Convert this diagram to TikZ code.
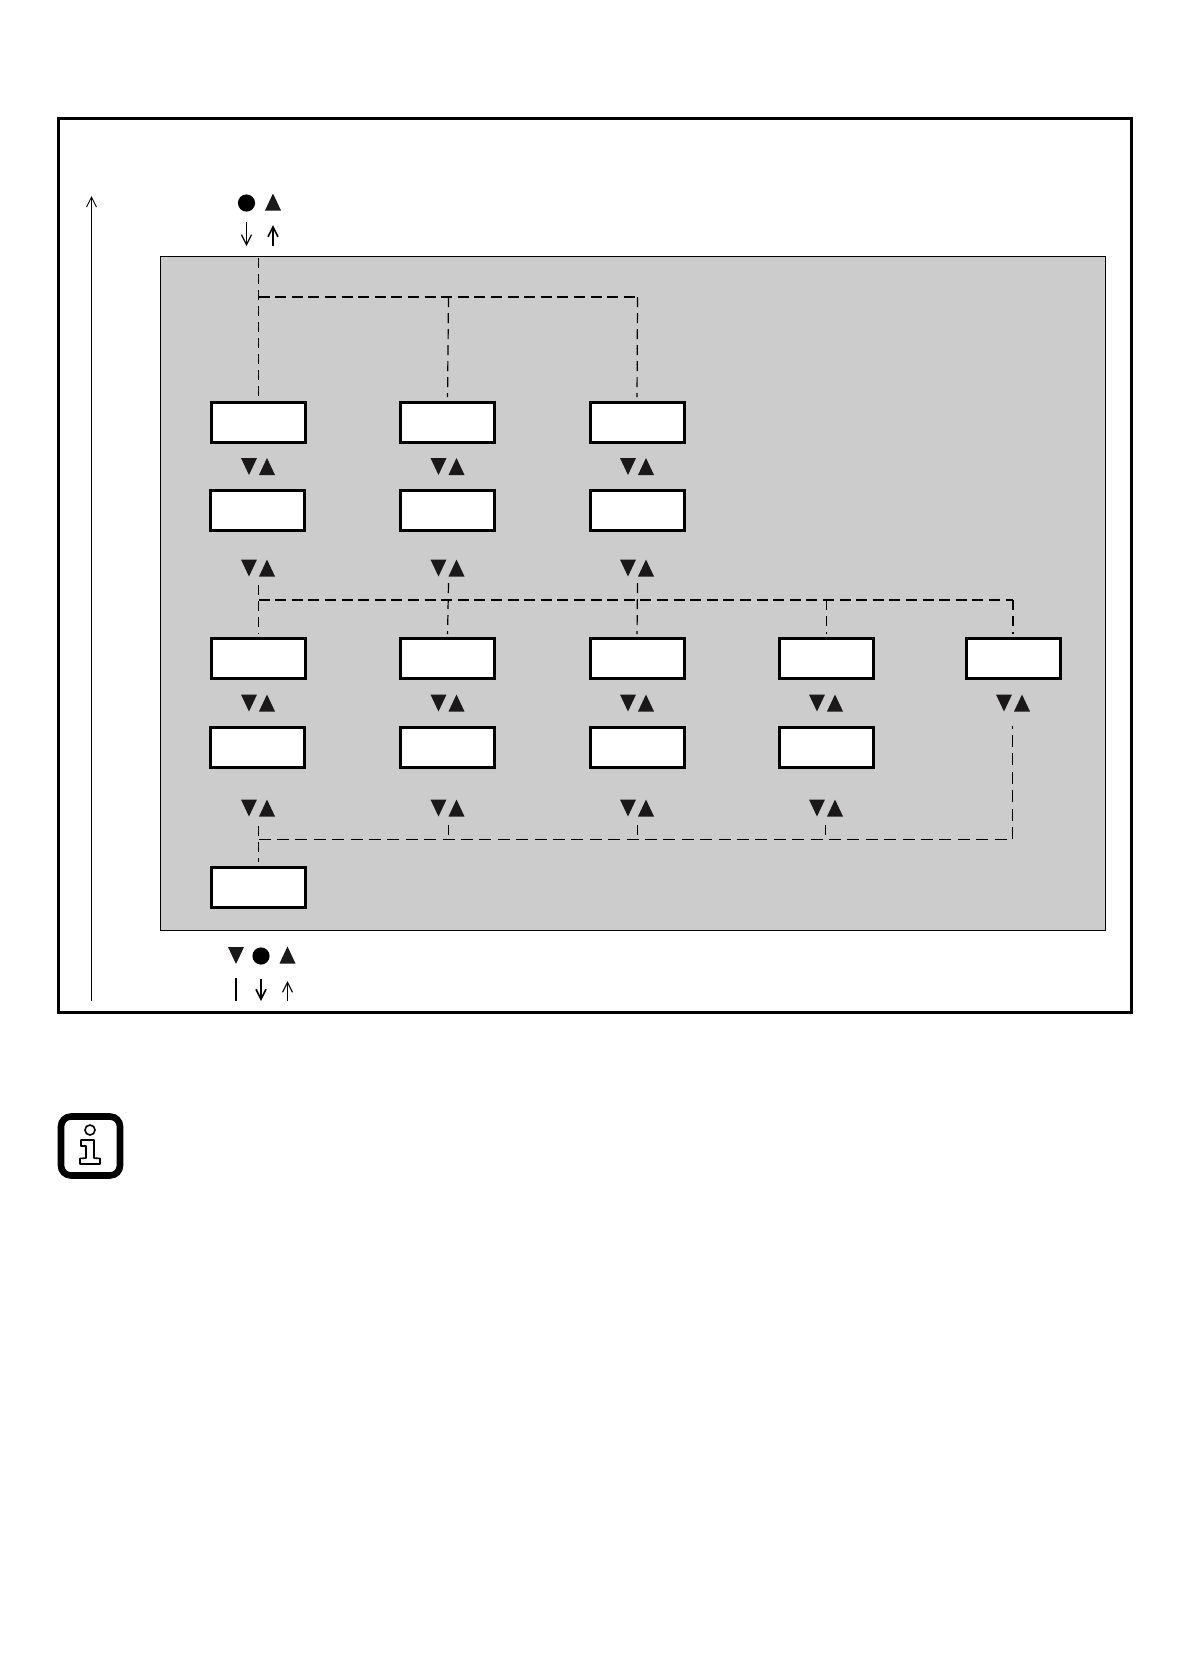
\documentclass[tikz,border=0pt]{standalone}
\usepackage{tikz}
\usetikzlibrary{arrows.meta}
\definecolor{panelgray}{RGB}{204, 204, 204}
\definecolor{markblack}{RGB}{26, 24, 25}

\tikzset{
    menubox/.style={draw=black, fill=white, line width=1.5bp, minimum width=47bp, minimum height=20bp, inner sep=0pt, outer sep=0pt},
    busline/.style={line width=0.8bp, dash pattern=on 5.5bp off 2.8bp},
    thinbus/.style={line width=0.6bp, dash pattern=on 6bp off 3.2bp},
    dropline/.style={line width=0.6bp, dash pattern=on 5bp off 3bp},
    navarrow/.style={-{Straight Barb[length=5bp, width=5bp]}, line width=0.6bp},
    upmark/.pic={\fill[markblack] (-8,8.5) -- (8,8.5) -- (0,-8.5) -- cycle;},
    downmark/.pic={\fill[markblack] (-8,-8.5) -- (8,-8.5) -- (0,8.5) -- cycle;},
    pairmark/.pic={
        \fill[markblack] (-17,-8.5) -- (-1,-8.5) -- (-9,8.5) -- cycle;
        \fill[markblack] (1,8.5) -- (17,8.5) -- (9,-8.5) -- cycle;
    },
}

\begin{document}
\begin{tikzpicture}[x=0.5bp, y=-0.5bp]
    \useasboundingbox (0,0) rectangle (1191,1678);
    \fill[white] (0,0) rectangle (1191,1678);

    % Outer frame and long return arrow
    \node[draw=black, line width=1.6bp, minimum width=536.5bp, minimum height=447bp, inner sep=0pt, outer sep=0pt] (frame) at (595,565.5) {};
    \coordinate (backstart) at (91.5,1001);
    \coordinate (backend) at (91.5,196);
    \draw[navarrow, line width=0.5bp] (backstart) -- (backend);

    % Grey panel
    \node[draw=black, fill=panelgray, line width=0.6bp, minimum width=472.5bp, minimum height=337bp, inner sep=0pt, outer sep=0pt] (panel) at (633,593.5) {};

    % Menu boxes, row by row
    \node[menubox] (a1) at (258.5,422) {};
    \node[menubox] (a2) at (447.5,422) {};
    \node[menubox] (a3) at (637,422) {};
    \node[menubox] (b1) at (257.5,510) {};
    \node[menubox] (b2) at (447.5,510) {};
    \node[menubox] (b3) at (637,510) {};
    \node[menubox] (c1) at (258.5,658) {};
    \node[menubox] (c2) at (447.5,658) {};
    \node[menubox] (c3) at (637,658) {};
    \node[menubox] (c4) at (826.5,658) {};
    \node[menubox] (c5) at (1013,658) {};
    \node[menubox] (d1) at (257.5,747) {};
    \node[menubox] (d2) at (447.5,747) {};
    \node[menubox] (d3) at (637,747) {};
    \node[menubox] (d4) at (826.5,747) {};
    \node[menubox] (e1) at (258.5,887) {};

    % Button marks between the rows
    \pic at (258,466.5) {pairmark};
    \pic at (447.5,466.5) {pairmark};
    \pic at (637,466.5) {pairmark};
    \pic at (258,568) {pairmark};
    \pic at (447.5,568) {pairmark};
    \pic at (637,568) {pairmark};
    \pic at (258,703) {pairmark};
    \pic at (447.5,703) {pairmark};
    \pic at (637,703) {pairmark};
    \pic at (826,703) {pairmark};
    \pic at (1013,703) {pairmark};
    \pic at (258,808) {pairmark};
    \pic at (447.5,808) {pairmark};
    \pic at (637,808) {pairmark};
    \pic at (826,808) {pairmark};

    % First dashed bus, into row a
    \coordinate (topstart) at (258.5,258);
    \coordinate (topbus1) at (258.5,297);
    \coordinate (topbus2) at (448.5,297);
    \coordinate (topbus3) at (637.5,297);
    \draw[dropline, shorten >=2.5bp] (topstart) -- (a1.north);
    \draw[dropline, shorten >=2.5bp] (topbus2) -- (a2.north);
    \draw[dropline, shorten >=2.5bp] (topbus3) -- (a3.north);
    \draw[busline] (topbus1) -- (topbus3);

    % Second dashed bus, into row c
    \coordinate (midstart1) at (258.5,585);
    \coordinate (midstart2) at (448.5,583);
    \coordinate (midstart3) at (637.5,583);
    \coordinate (midbus1) at (258.5,600);
    \coordinate (midbus4) at (826.5,600);
    \coordinate (midbus5) at (1013,600);
    \draw[dropline, shorten >=2bp] (midstart1) -- (c1.north);
    \draw[dropline, shorten >=2bp] (midstart2) -- (c2.north);
    \draw[dropline, shorten >=2bp] (midstart3) -- (c3.north);
    \draw[dropline, shorten >=2bp] (midbus4) -- (c4.north);
    \draw[dropline, shorten >=2bp] (midbus5) -- (c5.north);
    \draw[busline] (midbus1) -- (midbus5);

    % Third dashed bus, into box e1 and back up to the last column
    \coordinate (lowstart1) at (258.5,826);
    \coordinate (lowstart2) at (448.5,825);
    \coordinate (lowstart3) at (637.5,825);
    \coordinate (lowstart4) at (825.5,825);
    \coordinate (lowbus1) at (258.5,839.5);
    \coordinate (lowbus2) at (448.5,839.5);
    \coordinate (lowbus3) at (637.5,839.5);
    \coordinate (lowbus4) at (825.5,839.5);
    \coordinate (lowbus5) at (1012.5,839.5);
    \coordinate (lowend) at (1012.5,726);
    \draw[dropline, shorten >=2.5bp] (lowstart1) -- (e1.north);
    \draw[dropline] (lowstart2) -- (lowbus2);
    \draw[dropline] (lowstart3) -- (lowbus3);
    \draw[dropline] (lowstart4) -- (lowbus4);
    \draw[thinbus] (lowbus1) -- (lowbus5) -- (lowend);

    % Buttons above the panel
    \fill[black] (246.5,203) circle (4.3bp);
    \pic at (273,202) {upmark};
    \coordinate (enterstart) at (246.5,222);
    \coordinate (enterend) at (246.5,246);
    \coordinate (leavestart) at (273,246);
    \coordinate (leaveend) at (273,225);
    \draw[navarrow] (enterstart) -- (enterend);
    \draw[navarrow, line width=0.8bp] (leavestart) -- (leaveend);

    % Buttons below the panel
    \pic at (236,955.5) {downmark};
    \fill[black] (261,956) circle (4.3bp);
    \pic at (287.5,955) {upmark};
    \coordinate (barstart) at (236,978);
    \coordinate (barend) at (236,1001);
    \coordinate (lowenterstart) at (261,979);
    \coordinate (lowenterend) at (261,1001);
    \coordinate (lowleavestart) at (287.5,1001);
    \coordinate (lowleaveend) at (287.5,981);
    \draw[line width=0.8bp] (barstart) -- (barend);
    \draw[navarrow, line width=0.8bp] (lowenterstart) -- (lowenterend);
    \draw[navarrow] (lowleavestart) -- (lowleaveend);

    % Info sign
    \node[draw=black, line width=3.3bp, rounded corners=5bp, minimum width=29.5bp, minimum height=29.5bp, inner sep=0pt, outer sep=0pt] (infosign) at (90.5,1146) {};
    \draw[line width=0.8bp] (90,1130) circle (2.5bp);
    \draw[line width=0.8bp, line join=round] (81,1140) -- (94,1140) -- (94,1158) -- (100,1158.5) -- (100,1164) -- (80,1164) -- (80,1158.5) -- (86,1158) -- (86,1146) -- (81,1146) -- cycle;
\end{tikzpicture}
\end{document}
